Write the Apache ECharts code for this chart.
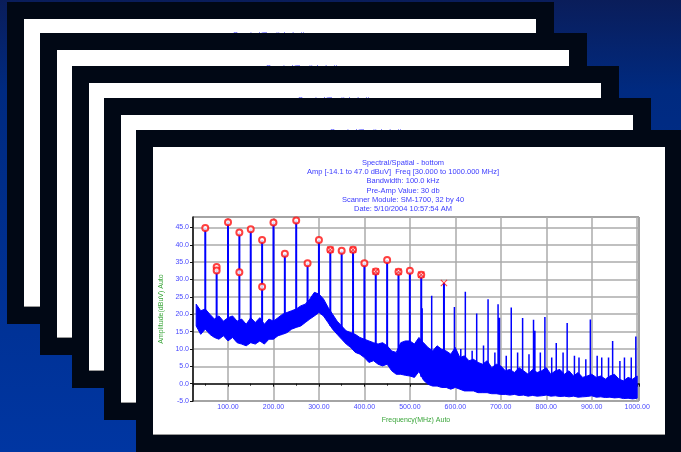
<!DOCTYPE html>
<html>
<head>
<meta charset="utf-8">
<script src="https://cdn.jsdelivr.net/npm/echarts@6/dist/echarts.min.js"></script>
<style>
html, body { margin: 0; padding: 0; }
#main { width: 681px; height: 452px; }
</style>
</head>
<body>
<div id="main"></div>
<script>
// noise floor of the trace, read every 10 MHz
var freqs = [30, 40, 50, 60, 70, 80, 90, 100, 110, 120, 130, 140, 150, 160, 170, 180, 190, 200,
    210, 220, 230, 240, 250, 260, 270, 280, 290, 300, 310, 320, 330, 340, 350, 360, 370, 380, 390, 400,
    410, 420, 430, 440, 450, 460, 470, 480, 490, 500, 510, 520, 530, 540, 550, 560, 570, 580, 590, 600,
    610, 620, 630, 640, 650, 660, 670, 680, 690, 700, 710, 720, 730, 740, 750, 760, 770, 780, 790, 800,
    810, 820, 830, 840, 850, 860, 870, 880, 890, 900, 910, 920, 930, 940, 950, 960, 970, 980, 990, 1000];
var lower = [16.6, 14.2, 15.7, 14.2, 13.3, 12.8, 13.8, 12.3, 13.3, 11.8, 11.4, 10.9, 11.8, 11.4, 12.3, 11.4, 12.8, 12.8,
    13.8, 14.2, 14.7, 15.7, 16.2, 16.6, 17.6, 18.6, 19.5, 20.5, 19.5, 17.6, 15.7, 14.2, 12.8, 11.4, 10.4, 9.0, 8.5, 7.5,
    6.1, 6.6, 5.6, 5.1, 5.6, 3.7, 2.7, 2.7, 2.4, 2.2, 1.8, 3.5, 1.0, -0.2, -0.7, -0.7, -1.1, -1.1, -1.6, -1.1,
    -1.6, -2.1, -2.1, -2.1, -2.6, -2.6, -2.6, -2.9, -2.9, -3.1, -3.1, -3.3, -3.1, -3.4, -3.3, -3.6, -3.4, -3.6, -3.5, -3.3,
    -3.6, -3.5, -3.7, -3.6, -3.8, -3.6, -3.9, -3.8, -3.7, -3.5, -3.9, -3.8, -4.0, -3.9, -4.1, -4.0, -4.3, -4.2, -4.4, -4.2];
var upper = [22.9, 21.0, 21.5, 20.0, 18.6, 19.5, 18.0, 19.0, 19.5, 18.0, 18.6, 17.1, 19.0, 17.6, 19.0, 17.1, 18.6, 18.0,
    19.0, 20.0, 20.5, 21.0, 21.5, 22.4, 22.9, 24.4, 26.3, 25.8, 24.4, 22.0, 20.0, 18.0, 16.6, 15.2, 14.7, 14.2, 13.3, 12.8,
    12.3, 11.8, 11.4, 11.8, 10.9, 9.4, 9.0, 11.8, 12.3, 12.3, 11.4, 13.3, 11.8, 10.4, 9.4, 10.9, 9.9, 9.4, 8.5, 10.4,
    7.5, 8.0, 6.6, 7.0, 6.1, 5.6, 6.6, 4.6, 5.6, 5.1, 3.7, 4.1, 3.2, 4.6, 3.7, 2.7, 4.1, 3.2, 3.7, 4.6,
    2.7, 3.7, 4.1, 2.7, 3.7, 2.2, 3.2, 1.8, 2.2, 2.7, 1.8, 2.2, 1.3, 2.2, 2.7, 1.3, 0.8, 1.8, 1.3, 2.2];

// tall emission spikes [MHz, dBuV]
var mainSpikes = [[50, 44.8], [75, 33.6], [100, 46.5], [125, 43.5], [150, 44.5], [175, 41.4], [200, 46.4],
    [225, 37.4], [250, 47.0], [275, 34.7], [300, 41.4], [325, 38.6], [350, 38.3], [375, 38.6], [400, 34.7],
    [425, 32.3], [450, 35.6], [475, 32.2], [500, 32.5], [525, 31.4], [575, 29.0]];
// smaller spikes without markers
var minorSpikes = [[527, 21.7], [548, 25.3], [598, 22.1], [612, 10.0], [622, 26.5], [637, 9.5], [647, 20.2],
    [662, 11.0], [672, 24.3], [687, 9.0], [694, 22.9], [697, 19.0], [712, 8.0], [723, 21.9], [737, 9.0],
    [748, 18.9], [762, 8.5], [772, 18.4], [775, 15.2], [787, 9.0], [797, 19.2], [812, 7.5], [822, 11.7],
    [837, 9.0], [846, 17.5], [862, 8.0], [872, 7.5], [887, 7.0], [897, 18.5], [912, 8.0], [922, 7.5],
    [937, 7.5], [946, 12.3], [962, 6.5], [972, 7.5], [987, 7.5], [997, 13.6]];

// peak markers
var circles = [[50, 44.8], [75, 33.6], [75, 32.6], [100, 46.5], [125, 43.5], [125, 32.1], [150, 44.5],
    [175, 41.4], [175, 27.9], [200, 46.4], [225, 37.4], [250, 47.0], [275, 34.7], [300, 41.4], [325, 38.6],
    [350, 38.3], [375, 38.6], [400, 34.7], [425, 32.3], [450, 35.6], [475, 32.2], [500, 32.5], [525, 31.4]];
var crosses = [[325, 38.6], [375, 38.6], [425, 32.3], [475, 32.2], [525, 31.4], [575, 29.0]];

var titleLines = ['Spectral/Spatial - bottom',
    'Amp [-14.1 to 47.0 dBuV]  Freq [30.000 to 1000.000 MHz]',
    'Bandwidth: 100.0 kHz',
    'Pre-Amp Value: 30 db',
    'Scanner Module: SM-1700, 32 by 40',
    'Date: 5/10/2004 10:57:54 AM'];

var blue = '#0000ff';
var labelBlue = '#4848ff';

function spikeLine(list) {
    var out = [];
    list.forEach(function (s) {
        var idx = Math.round((s[0] - 30) / 10);
        out.push([s[0], lower[idx] + 1], [s[0], s[1]], [s[0], null]);
    });
    return out;
}

var bandRows = freqs.map(function (f, i) { return [f, lower[i], upper[i]]; });

// noise band drawn as one polygon through the axis scales
function renderBand(params, api) {
    if (params.dataIndex !== 0) return null;
    var pts = [];
    for (var i = 0; i < bandRows.length; i++) pts.push(api.coord([bandRows[i][0], bandRows[i][2]]));
    for (var j = bandRows.length - 1; j >= 0; j--) pts.push(api.coord([bandRows[j][0], bandRows[j][1]]));
    return {
        type: 'polygon',
        shape: { points: pts },
        style: { fill: blue, stroke: blue, lineWidth: 1 }
    };
}

// stacked cards behind the chart
var cardX = [7, 40, 72, 104, 136];
var cardY = [2, 33, 66, 98, 130];
var graphics = [];
cardX.forEach(function (x, i) {
    var y = cardY[i];
    graphics.push({ type: 'rect', z: -10, shape: { x: x, y: y, width: 547, height: 322 }, style: { fill: '#010815' } });
    graphics.push({ type: 'rect', z: -10, shape: { x: x + 17, y: y + 17, width: 512, height: 288 }, style: { fill: '#ffffff' } });
    graphics.push({ type: 'rect', z: -10, shape: { x: x + 17, y: y + 304, width: 512, height: 1 }, style: { fill: '#9a9a9a' } });
    if (i < 4) {
        // title of the card behind, mostly hidden by the next card
        graphics.push({ type: 'text', z: -10, x: x + 267, y: cardY[i + 1] + 1.5,
            style: { text: titleLines[0], fill: labelBlue, font: '7.5px "Liberation Sans", Arial', align: 'center', verticalAlign: 'middle' } });
    }
});
graphics.push({ type: 'text', x: 403, y: 158,
    style: { text: titleLines.join('\n'), fill: '#3c3cff', font: '7.5px "Liberation Sans", Arial', lineHeight: 9.3, align: 'center', verticalAlign: 'top' } });

var option = {
    backgroundColor: {
        type: 'linear', x: 0, y: 0, x2: 0, y2: 1,
        colorStops: [{ offset: 0, color: '#0a1d5a' }, { offset: 0.2, color: '#002a80' }, { offset: 1, color: '#0036a2' }]
    },
    animation: false,
    graphic: { elements: graphics },
    grid: { left: 193, top: 217, right: 42, bottom: 51, show: true, borderColor: '#222', borderWidth: 1, backgroundColor: 'transparent' },
    xAxis: {
        type: 'value', min: 23, max: 1004, splitNumber: 10,
        name: 'Frequency(MHz) Auto', nameLocation: 'middle', nameGap: 16,
        nameTextStyle: { color: '#3aa53a', fontSize: 7, fontFamily: 'Liberation Sans' },
        axisLine: { lineStyle: { color: '#111', width: 1.5 } },
        axisTick: { length: 3, lineStyle: { color: '#111' } },
        minorTick: { show: true, splitNumber: 2, length: 2, lineStyle: { color: '#111' } },
        axisLabel: { color: labelBlue, fontSize: 7, fontFamily: 'Liberation Sans', margin: 3, showMinLabel: false, showMaxLabel: false,
            formatter: function (v) { return v.toFixed(2); } },
        splitLine: { lineStyle: { color: '#ababab', width: 1.5 } }
    },
    yAxis: {
        type: 'value', min: -5, max: 48, interval: 5,
        name: 'Amplitude(dBuV) Auto', nameLocation: 'middle', nameGap: 21,
        nameTextStyle: { color: '#3aa53a', fontSize: 7, fontFamily: 'Liberation Sans' },
        axisLine: { show: true, lineStyle: { color: '#111', width: 1.5 } },
        axisTick: { show: true, length: 3, lineStyle: { color: '#111' } },
        axisLabel: { color: labelBlue, fontSize: 7, fontFamily: 'Liberation Sans', margin: 4, showMaxLabel: false,
            formatter: function (v) { return v.toFixed(1); } },
        splitLine: { lineStyle: { color: '#ababab', width: 1.5 } }
    },
    series: [
        { name: 'noise', type: 'custom', data: bandRows, renderItem: renderBand, encode: { x: 0, y: [1, 2] }, z: 2 },
        { name: 'spikes', type: 'line', data: spikeLine(mainSpikes), symbol: 'none', connectNulls: false,
            lineStyle: { color: blue, width: 2 }, z: 3 },
        { name: 'minor', type: 'line', data: spikeLine(minorSpikes), symbol: 'none', connectNulls: false,
            lineStyle: { color: blue, width: 1.5 }, z: 3 },
        { name: 'peaks', type: 'scatter', data: circles, symbol: 'emptyCircle', symbolSize: 6, z: 5,
            itemStyle: { color: '#ff1010', borderWidth: 1.3 } },
        { name: 'limits', type: 'scatter', data: crosses, z: 6, symbolSize: 7,
            symbol: 'path://M0,1L1,0L5,4L9,0L10,1L6,5L10,9L9,10L5,6L1,10L0,9L4,5Z',
            itemStyle: { color: '#ff1010' } }
    ]
};

var chart = echarts.init(document.getElementById('main'));
chart.setOption(option);
</script>
</body>
</html>
